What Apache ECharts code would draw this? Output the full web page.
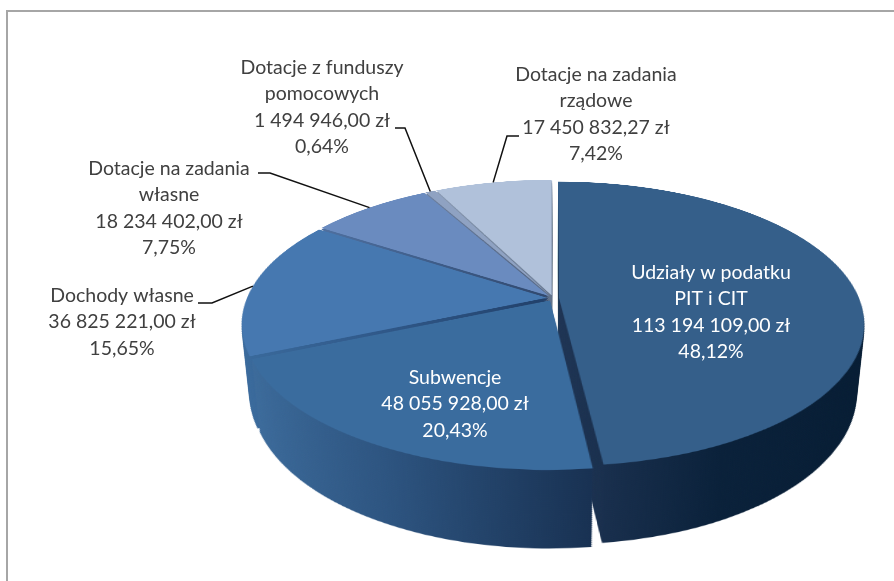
<!DOCTYPE html>
<html>
<head>
<meta charset="utf-8">
<script src="https://cdn.jsdelivr.net/npm/echarts@6/dist/echarts.min.js"></script>
<style>
html, body { margin: 0; padding: 0; background: #fff; }
#stage {
    position: absolute; left: 0; top: 0; width: 894px; height: 581px; overflow: hidden;
    perspective: 1459px; perspective-origin: 553px 298px;
}
.layer {
    position: absolute; left: 223px; top: -32px; width: 660px; height: 660px;
    transform-origin: 330px 330px;
}
#labels { position: absolute; left: 0; top: 0; width: 894px; height: 581px; }
</style>
</head>
<body>
<div id="stage"></div>
<script>
// data
const categories = [
    'Udziały w podatku\nPIT i CIT',
    'Subwencje',
    'Dochody własne',
    'Dotacje na zadania\nwłasne',
    'Dotacje z funduszy\npomocowych',
    'Dotacje na zadania\nrządowe'
];
const values = [113194109.00, 48055928.00, 36825221.00, 18234402.00, 1494946.00, 17450832.27];

// styles
const topColors = ['#355f8a', '#3a6c9e', '#4678b0', '#6a8bbf', '#8fa2c2', '#b0c1da'];
const sideStops = [
    ['#1e3454', '#0a213a', '#061c33'],
    ['#3c6b9b', '#2d5480', '#183152'],
    ['#3b6c9e', '#30598a', '#21406a'],
    ['#4e6f9f', '#405f8c', '#30486e'],
    ['#6d7f9c', '#5d6f8c', '#4a5a74'],
    ['#8798b0', '#76879f', '#62728a']
];

// label layout (text block centres, leader start/elbow)
const labelCenters = [[711, 312], [455, 404], [122, 322], [169, 208], [322, 107], [596, 114]];
const labelInside = [true, true, false, false, false, false];
const leaderPaths = [null, null, [[198, 303], [212, 303]], [[258, 173], [270, 173]], [[395, 128], [405, 128]], [[519, 136], [507, 136]]];

const TILT = 62.7, PERSP = 1459, RADIUS = 300, DEPTH = 79, STEPS = 40;
const CX = 553, CY = 298, EXPLODE = 6;

const total = values.reduce((a, b) => a + b, 0);

function fmtMoney(v) {
    const parts = v.toFixed(2).split('.');
    return parts[0].replace(/\B(?=(\d{3})+(?!\d))/g, ' ') + ',' + parts[1] + ' zł';
}
function fmtPct(v) {
    return (v / total * 100).toFixed(2).replace('.', ',') + '%';
}

function pieOption(colors) {
    return {
        animation: false,
        series: [{
            type: 'pie',
            radius: RADIUS,
            center: ['50%', '50%'],
            startAngle: 90,
            clockwise: true,
            selectedMode: 'multiple',
            selectedOffset: EXPLODE,
            label: { show: false },
            labelLine: { show: false },
            emphasis: { disabled: true },
            data: values.map((v, i) => ({
                value: v,
                name: categories[i],
                selected: true,
                itemStyle: { color: colors[i] }
            }))
        }]
    };
}

const sideFills = sideStops.map(s => ({
    type: 'linear', x: 0, y: 0, x2: 1, y2: 0,
    colorStops: [{ offset: 0, color: s[0] }, { offset: 0.45, color: s[1] }, { offset: 1, color: s[2] }]
}));

const stage = document.getElementById('stage');
for (let k = STEPS; k >= 0; k--) {
    const d = DEPTH * k / STEPS;
    const div = document.createElement('div');
    div.className = 'layer';
    div.style.transform = 'rotateX(' + TILT + 'deg) translateZ(' + (-d) + 'px)';
    stage.appendChild(div);
    const chart = echarts.init(div, null, { renderer: 'svg' });
    chart.setOption(pieOption(k === 0 ? topColors : sideFills));
}

// projection of a point of the tilted pie plane onto the page
function project(px, py, pz) {
    const t = TILT * Math.PI / 180, c = Math.cos(t), s = Math.sin(t);
    const Y = c * py - s * pz, Z = s * py + c * pz;
    const k = PERSP / (PERSP - Z);
    return [CX + px * k, CY + Y * k];
}

function anchorOf(i) {
    let cum = 0;
    for (let j = 0; j < i; j++) cum += values[j];
    const a = (90 - (cum + values[i] / 2) / total * 360) * Math.PI / 180;
    const r = RADIUS + EXPLODE;
    return project(r * Math.cos(a), -r * Math.sin(a), 0);
}

const labelDiv = document.createElement('div');
labelDiv.id = 'labels';
stage.appendChild(labelDiv);
const labelChart = echarts.init(labelDiv);

const graphics = [{
    type: 'rect',
    shape: { x: 7, y: 11, width: 1000, height: 1000 },
    style: { fill: null, stroke: '#a6a6a6', lineWidth: 2 }
}];
values.forEach((v, i) => {
    graphics.push({
        type: 'text',
        x: labelCenters[i][0],
        y: labelCenters[i][1],
        style: {
            text: categories[i] + '\n' + fmtMoney(v) + '\n' + fmtPct(v),
            fill: labelInside[i] ? '#ffffff' : '#404040',
            font: '19.5px Lato',
            align: 'center',
            verticalAlign: 'middle',
            lineHeight: 26.5
        }
    });
    if (leaderPaths[i]) {
        graphics.push({
            type: 'polyline',
            shape: { points: leaderPaths[i].concat([anchorOf(i)]) },
            style: { stroke: '#111', lineWidth: 1.5, fill: null }
        });
    }
});

labelChart.setOption({ animation: false, graphic: graphics });
</script>
</body>
</html>
